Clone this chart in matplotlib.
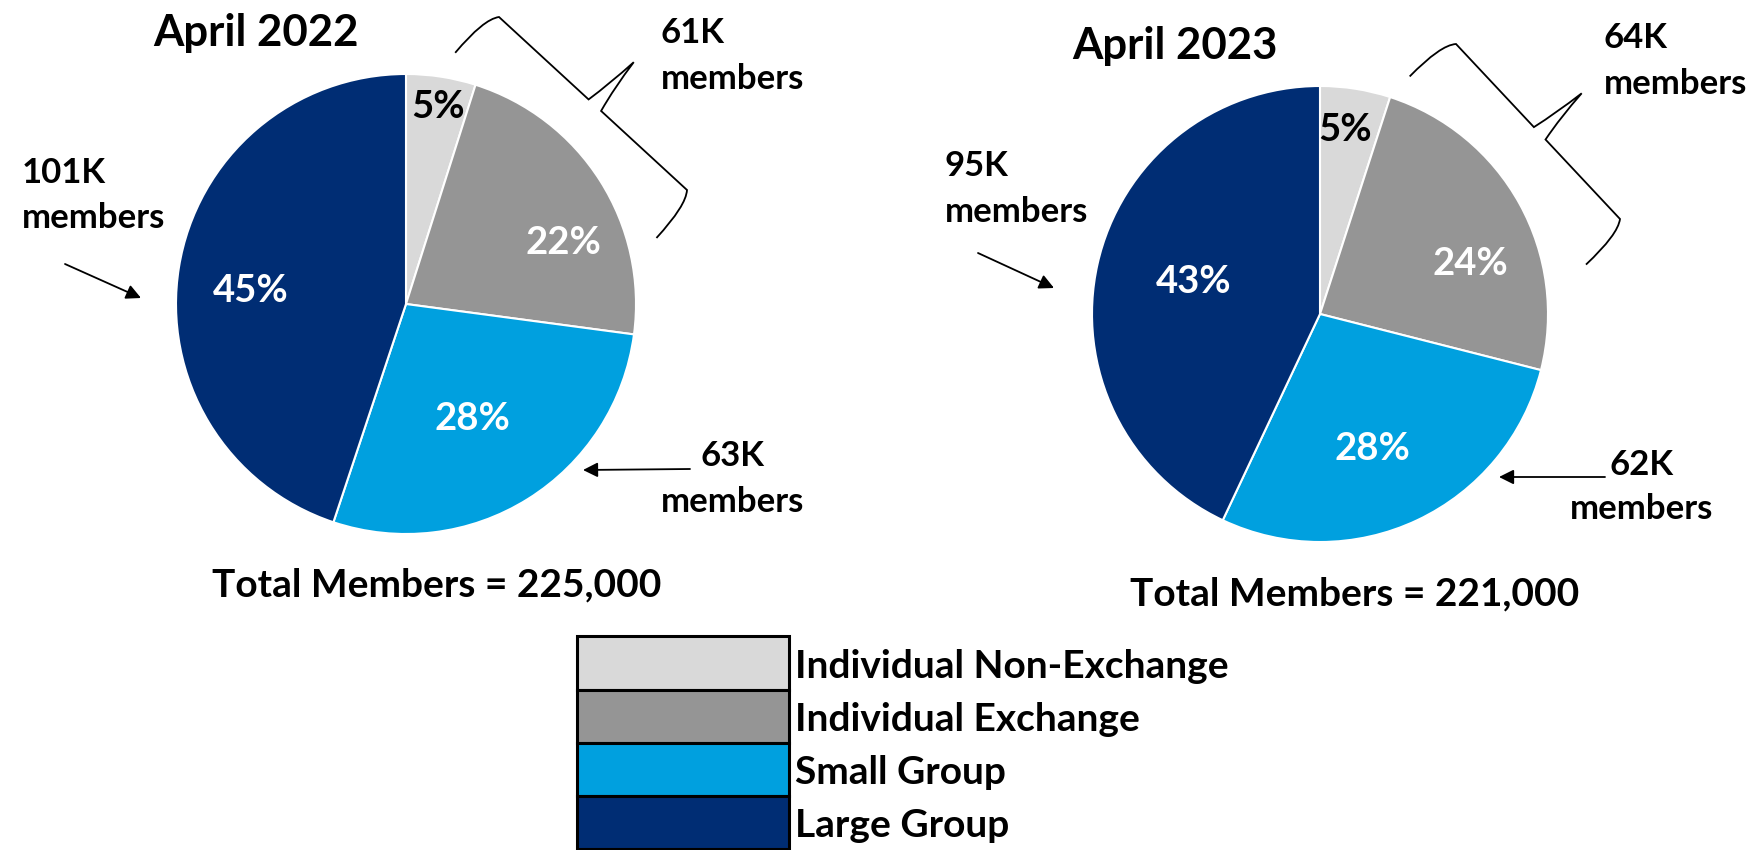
import matplotlib
matplotlib.use('Agg')
import matplotlib.pyplot as plt
from matplotlib.patches import PathPatch, Rectangle
from matplotlib.path import Path
import numpy as np

# ---------------- data ----------------
categories = ['Individual Non-Exchange', 'Individual Exchange', 'Small Group', 'Large Group']
colors = ['#D9D9D9', '#959595', '#00A0DF', '#002D74']
titles = ['April 2022', 'April 2023']
members_2022 = [11, 50, 63, 101]   # thousands
members_2023 = [11, 53, 62, 95]    # thousands
pct_2022 = [5, 22, 28, 45]
pct_2023 = [5, 24, 28, 43]
pct_colors = ['black', 'white', 'white', 'white']
totals = [225000, 221000]
individual_k = [61, 64]
small_k = [63, 62]
large_k = [101, 95]

plt.rcParams['font.family'] = ['Lato', 'DejaVu Sans']
plt.rcParams['font.weight'] = 'bold'

W, H = 1758, 850
fig = plt.figure(figsize=(W / 100, H / 100), dpi=100)
fig.patch.set_facecolor('white')


def F(x, y):
    """pixel (from top-left) -> figure fraction"""
    return (x / W, 1 - y / H)


# layout (pixels in the full image)
pies = [
    dict(cx=406, cy=304, R=230, vals=members_2022, pct=pct_2022,
         pct_pos=[(438, 107), (563, 243), (472, 419), (251, 291)],
         title_pos=(256, 46), total_pos=(437, 596),
         ind_pos=(661, 43, 89), small_pos=(733, 466, 512), large_pos=(22, 183, 228),
         arrow_large=((65, 264), (141, 298)), arrow_small=((690, 469), (583, 470)),
         brace=((499, 17), (687, 190))),
    dict(cx=1320, cy=314, R=228, vals=members_2023, pct=pct_2023,
         pct_pos=[(1345, 130), (1470, 264), (1372, 449), (1194, 282)],
         title_pos=(1175, 59), total_pos=(1355, 605),
         ind_pos=(1604, 48, 94), small_pos=(1642, 475, 519), large_pos=(945, 176, 222),
         arrow_large=((978, 253), (1054, 288)), arrow_small=((1605, 477), (1499, 477)),
         brace=((1456, 44), (1620, 219))),
]

LBL = 25


def draw_brace(p0, p1, w_end=56, w_tip=58, lw=1.3):
    p0 = np.array(p0, float)
    p1 = np.array(p1, float)
    L = np.linalg.norm(p1 - p0)
    d = (p1 - p0) / L
    n = np.array([d[1], -d[0]])  # outward (up-right)

    def P(u, v):
        p = p0 + u * d + v * n
        return F(p[0], p[1])

    m = L / 2 + 2
    verts = [P(-8, -w_end), P(-10, -12), P(0, 0),
             P(m - 8, 0),
             P(m - 3, w_tip * 0.45), P(m, w_tip),
             P(m + 3, w_tip * 0.45), P(m + 9, 0),
             P(L, 0),
             P(L + 10, -12), P(L + 10, -w_end)]
    codes = [Path.MOVETO, Path.CURVE3, Path.CURVE3,
             Path.LINETO,
             Path.CURVE3, Path.CURVE3,
             Path.CURVE3, Path.CURVE3,
             Path.LINETO,
             Path.CURVE3, Path.CURVE3]
    patch = PathPatch(Path(verts, codes), facecolor='none', edgecolor='black',
                      lw=lw, transform=fig.transFigure)
    fig.add_artist(patch)


for i, p in enumerate(pies):
    cx, cy, R = p['cx'], p['cy'], p['R']
    ax = fig.add_axes([(cx - R) / W, 1 - (cy + R) / H, 2 * R / W, 2 * R / H])
    ax.pie(p['vals'], colors=colors, startangle=90, counterclock=False, radius=1,
           wedgeprops=dict(edgecolor='white', linewidth=1.5))
    ax.set_aspect('auto')
    ax.set_xlim(-1, 1)
    ax.set_ylim(-1, 1)
    ax.axis('off')
    for (px, py), val, col in zip(p['pct_pos'], p['pct'], pct_colors):
        ax.text((px - cx) / R, (cy - py) / R, f'{val}%', ha='center', va='center',
                color=col, fontsize=27.5, fontweight='bold')

    # title
    fig.text(*F(*p['title_pos']), titles[i], ha='center', va='baseline',
             fontsize=31.5, fontweight='bold')
    # total
    fig.text(*F(*p['total_pos']), f'Total Members = {totals[i]:,}', ha='center',
             va='baseline', fontsize=28, fontweight='bold')

    # member labels
    x, b1, b2 = p['ind_pos']
    fig.text(*F(x, b1), f'{individual_k[i]}K', ha='left', va='baseline', fontsize=LBL)
    fig.text(*F(x, b2), 'members', ha='left', va='baseline', fontsize=LBL)
    x, b1, b2 = p['small_pos']
    fig.text(*F(x, b1), f'{small_k[i]}K', ha='center', va='baseline', fontsize=LBL)
    fig.text(*F(x, b2), 'members', ha='center', va='baseline', fontsize=LBL)
    x, b1, b2 = p['large_pos']
    fig.text(*F(x, b1), f'{large_k[i]}K', ha='left', va='baseline', fontsize=LBL)
    fig.text(*F(x, b2), 'members', ha='left', va='baseline', fontsize=LBL)

    # arrows
    for (s, e) in (p['arrow_large'], p['arrow_small']):
        fig.add_artist(matplotlib.patches.FancyArrowPatch(
            F(*s), F(*e), transform=fig.transFigure, arrowstyle='-|>',
            mutation_scale=22, lw=1.3, color='black', shrinkA=0, shrinkB=0))

    draw_brace(*p['brace'])

# legend (manual, boxed swatches)
lx0, lx1 = 577, 789
rows = [636, 690, 743, 796, 849]
for k, (cat, col) in enumerate(zip(categories, colors)):
    y0, y1 = rows[k], rows[k + 1]
    fx0, fy1 = F(lx0, y0)
    fx1, fy0 = F(lx1, y1)
    fig.add_artist(Rectangle((fx0, fy0), fx1 - fx0, fy1 - fy0, facecolor=col,
                             edgecolor='black', lw=2.2, transform=fig.transFigure))
    fig.text(*F(795, (y0 + y1) / 2 + 3), cat, ha='left', va='center',
             fontsize=28, fontweight='bold')

fig.savefig('out.png', dpi=100, facecolor='white')
